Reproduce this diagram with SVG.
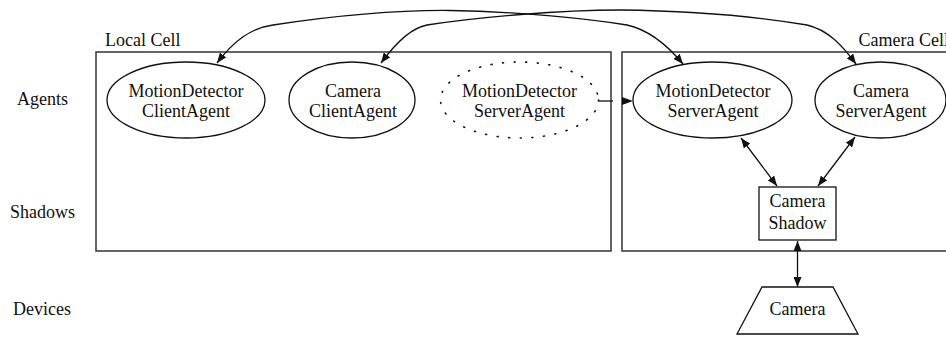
<svg xmlns="http://www.w3.org/2000/svg" width="946" height="337" viewBox="0 0 946 337">
  <style>
    text { font-family: "Liberation Serif", "Times New Roman", serif; font-size: 18px; fill: #111; }
    .mid { text-anchor: middle; }
    .cell { fill: none; stroke: #333; stroke-width: 1.5; }
    .node { fill: #fff; stroke: #111; stroke-width: 1.3; }
    .ghost { fill: none; stroke: #111; stroke-width: 1.6; stroke-dasharray: 1 10.6; stroke-linecap: round; }
    .edge { fill: none; stroke: #111; stroke-width: 1.3; }
  </style>
  <defs>
    <marker id="arrow" viewBox="0 0 10 8" refX="10" refY="4" markerWidth="10" markerHeight="8" markerUnits="userSpaceOnUse" orient="auto-start-reverse">
      <path d="M0,0 L10,4 L0,8 Z" fill="#111"/>
    </marker>
    <marker id="arrowOut" viewBox="0 0 11 8" refX="0" refY="4" markerWidth="11" markerHeight="8" markerUnits="userSpaceOnUse" orient="auto">
      <path d="M0,0 L11,4 L0,8 Z" fill="#111"/>
    </marker>
  </defs>

  <!-- layer labels -->
  <g id="layers">
    <text x="17" y="105">Agents</text>
    <text x="10" y="218">Shadows</text>
    <text x="13" y="315">Devices</text>
  </g>

  <!-- cells -->
  <g id="local-cell">
    <rect class="cell" x="96" y="52" width="515" height="199"/>
    <text x="105" y="46">Local Cell</text>
  </g>
  <g id="camera-cell">
    <rect class="cell" x="622" y="52" width="340" height="199"/>
    <text x="858.5" y="46">Camera Cell</text>
  </g>

  <!-- agents -->
  <g id="md-client">
    <ellipse class="node" cx="186" cy="100" rx="79" ry="38"/>
    <text class="mid" x="186" y="96.5">MotionDetector</text>
    <text class="mid" x="186" y="116.5">ClientAgent</text>
  </g>
  <g id="cam-client">
    <ellipse class="node" cx="352" cy="100" rx="63" ry="38"/>
    <text class="mid" x="353" y="96.5">Camera</text>
    <text class="mid" x="353" y="116.5">ClientAgent</text>
  </g>
  <g id="md-server-proxy">
    <ellipse class="ghost" cx="519.5" cy="100" rx="79" ry="38"/>
    <text class="mid" x="519.5" y="96.5">MotionDetector</text>
    <text class="mid" x="519.5" y="116.5">ServerAgent</text>
  </g>
  <g id="md-server">
    <ellipse class="node" cx="712.5" cy="100" rx="79.5" ry="38"/>
    <text class="mid" x="713" y="96.5">MotionDetector</text>
    <text class="mid" x="713" y="116.5">ServerAgent</text>
  </g>
  <g id="cam-server">
    <ellipse class="node" cx="880.5" cy="100" rx="65.5" ry="38"/>
    <text class="mid" x="881" y="96.5">Camera</text>
    <text class="mid" x="881" y="116.5">ServerAgent</text>
  </g>

  <!-- shadow -->
  <g id="cam-shadow">
    <rect class="node" x="759" y="187" width="77" height="53"/>
    <text class="mid" x="797.5" y="207">Camera</text>
    <text class="mid" x="797.5" y="229">Shadow</text>
  </g>

  <!-- device -->
  <g id="cam-device">
    <polygon class="node" points="762,287 833,287 858,334 737,334"/>
    <text class="mid" x="797.5" y="315">Camera</text>
  </g>

  <!-- connectors -->
  <g id="connectors">
    <path class="edge" marker-start="url(#arrow)" marker-end="url(#arrow)"
          d="M217,63 C233,42 250,28 273,25 C340,15 400,10 450,10.5 C520,11.5 590,19 627,25 C650,30 668,46 683,64"/>
    <path class="edge" marker-start="url(#arrow)" marker-end="url(#arrow)"
          d="M381,63 C395,44 410,28 427,25 C480,17 560,10 620,10 C700,11 760,17 807,25 C828,30 842,45 856,64"/>
    <line class="edge" x1="599" y1="101" x2="622" y2="101" stroke-dasharray="14 9" marker-end="url(#arrowOut)"/>
    <line class="edge" x1="741" y1="138" x2="777" y2="186" marker-start="url(#arrow)" marker-end="url(#arrow)"/>
    <line class="edge" x1="855" y1="137" x2="818" y2="186" marker-start="url(#arrow)" marker-end="url(#arrow)"/>
    <line class="edge" x1="797.5" y1="241" x2="797.5" y2="287" marker-start="url(#arrow)" marker-end="url(#arrow)"/>
  </g>
</svg>
